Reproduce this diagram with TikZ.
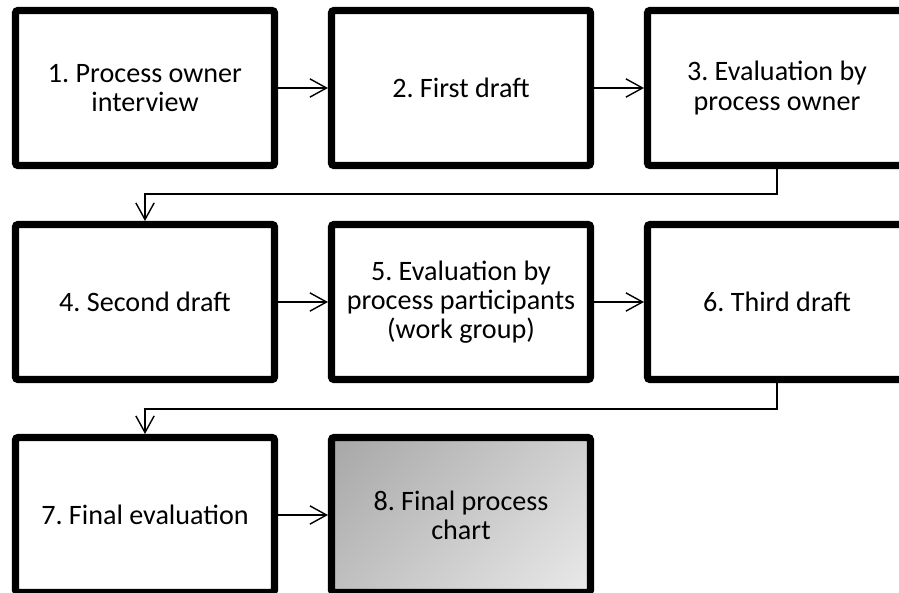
\documentclass[tikz,border=0pt]{standalone}
\usepackage{fontspec}
\setmainfont{Carlito}
\frenchspacing
\usetikzlibrary{arrows.meta}

\pgfdeclareverticalshading{finalfade}{100bp}{
  color(0bp)=(black!3); color(100bp)=(black!40)}

\tikzset{
  processbox/.style={draw=black, line width=6pt, rounded corners=2pt, fill=white,
    minimum width=7.77cm, minimum height=4.65cm, align=center,
    font=\fontsize{24}{25}\selectfont},
  finalbox/.style={processbox, shading=finalfade, shading angle=45},
  flow/.style={-{Straight Barb[length=5mm,width=5.5mm]}, line width=1.2pt},
}

\begin{document}
\begin{tikzpicture}[x=0.03cm,y=-0.03cm]

  \useasboundingbox (0,0) rectangle (899,593);
  \clip (0,0) rectangle (899,593);

  %-------------------- row 1 --------------------
  \node[processbox] (step1) at (145,88) {1. Process owner\\interview};
  \node[processbox] (step2) at (461,88) {2. First draft};
  \node[processbox] (step3) at (777,88) {3. Evaluation by\\process owner};

  %-------------------- row 2 --------------------
  \node[processbox] (step4) at (145,302) {4. Second draft};
  \node[processbox] (step5) at (461,302)
    {5. Evaluation by\\process participants\\(work group)};
  \node[processbox] (step6) at (777,302) {6. Third draft};

  %-------------------- row 3 --------------------
  \node[processbox] (step7) at (145,515) {7. Final evaluation};
  \node[finalbox]   (step8) at (461,515) {8. Final process\\chart};

  % connectors
  \draw[flow] (step1) -- (step2);
  \draw[flow] (step2) -- (step3);
  \draw[flow] (step3.south) -- ++(0,25) -| (step4.north);
  \draw[flow] (step4) -- (step5);
  \draw[flow] (step5) -- (step6);
  \draw[flow] (step6.south) -- ++(0,26) -| (step7.north);
  \draw[flow] (step7) -- (step8);

\end{tikzpicture}
\end{document}
